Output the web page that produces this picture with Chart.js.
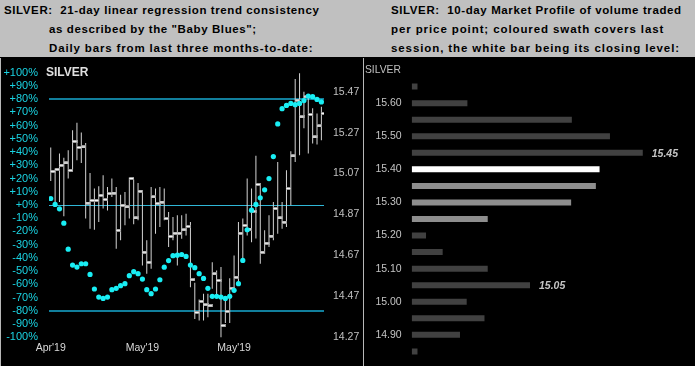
<!DOCTYPE html>
<html><head><meta charset="utf-8">
<script src="https://cdn.jsdelivr.net/npm/chart.js@4/dist/chart.umd.min.js"></script>
<style>
html,body{margin:0;padding:0;background:#000;width:695px;height:366px;overflow:hidden;font-family:"Liberation Sans",Arial,sans-serif;}
#title{position:absolute;left:0;top:0;width:695px;height:57px;background:#c0c0c0;}
.t{position:absolute;font-weight:bold;font-size:11.5px;letter-spacing:0.6px;color:#000;white-space:pre;line-height:14px;}
#cl{position:absolute;left:0;top:58px;}
#cr{position:absolute;left:362px;top:58px;}
#lb{position:absolute;left:0;top:58px;width:1px;height:308px;background:#b8b8b8;}
#rb{position:absolute;left:363px;top:58px;width:1px;height:308px;background:#b8b8b8;}
#sl{position:absolute;left:46px;top:65px;font-weight:bold;font-size:12px;color:#e0e0e0;line-height:14px;}
#sr{position:absolute;left:365px;top:64px;font-size:10.3px;color:#c0c0c0;line-height:12px;}
</style></head>
<body>
<div id="title">
<div class="t" style="left:4px;top:3px">SILVER:  21-day linear regression trend consistency</div>
<div class="t" style="left:49px;top:22px">as described by the "Baby Blues";</div>
<div class="t" style="left:49px;top:41px;letter-spacing:0.85px">Daily bars from last three months-to-date:</div>
<div class="t" style="left:391px;top:3px;letter-spacing:0.6px">SILVER:  10-day Market Profile of volume traded</div>
<div class="t" style="left:391px;top:22px;letter-spacing:0.9px">per price point; coloured swath covers last</div>
<div class="t" style="left:391px;top:41px;letter-spacing:0.9px">session, the white bar being its closing level:</div>
</div>
<canvas id="cl" width="361" height="308"></canvas>
<canvas id="cr" width="333" height="308"></canvas>
<div id="lb"></div><div id="rb"></div>
<div id="sl">SILVER</div>
<div id="sr">SILVER</div>
<script>
// ---------- Left panel data ----------
const highs = [15.198,15.095,15.168,15.147,15.184,15.282,15.318,15.271,15.219,15.073,
14.997,15.008,15.062,15.005,15.046,15.005,14.967,14.980,15.051,15.041,
15.024,14.988,14.744,15.005,14.997,15.005,14.997,14.882,14.858,14.866,
14.866,14.874,14.833,14.536,14.455,14.483,14.483,14.637,14.597,14.613,
14.466,14.559,14.670,14.833,14.850,15.046,14.997,15.157,15.013,14.793,
14.866,14.931,15.127,14.931,15.086,15.179,15.532,15.560,15.470,15.454,
15.389,15.364,15.396];
const lows = [15.034,14.915,14.931,14.861,15.046,15.090,15.135,15.122,14.850,14.801,
14.796,14.833,14.899,14.890,14.956,14.703,14.744,14.817,14.850,14.822,
14.842,14.621,14.580,14.605,14.776,14.809,14.842,14.711,14.744,14.621,
14.752,14.768,14.515,14.360,14.352,14.352,14.368,14.507,14.479,14.267,
14.340,14.340,14.507,14.539,14.646,14.768,14.735,14.753,14.629,14.678,
14.711,14.744,14.776,14.801,14.809,14.915,15.127,15.160,15.291,15.168,
15.217,15.212,15.233];
const closes = [15.081,15.091,15.111,15.122,15.086,15.228,15.198,15.200,14.926,14.939,
14.939,14.964,14.943,14.972,14.975,14.793,14.915,14.907,15.046,14.853,
14.984,14.686,14.637,14.956,14.923,14.931,14.850,14.763,14.779,14.779,
14.795,14.812,14.551,14.392,14.446,14.429,14.424,14.580,14.548,14.327,
14.397,14.510,14.564,14.779,14.817,14.799,14.886,15.017,14.686,14.730,
14.765,14.899,14.853,14.833,14.997,15.156,15.429,15.347,15.445,15.359,
15.249,15.303,15.364];
const babyBlues = [4.9,0.4,-2.9,-13.7,-33.4,-45.4,-46.9,-44.4,-44.4,-52.5,
-63.5,-69.6,-70.6,-69.6,-64,-63,-61,-59.5,-53.4,-50.4,
-51.9,-56,-64,-67,-63.5,-56.5,-47,-42,-38.3,-37.9,
-37.4,-38.9,-45.4,-47.4,-51.9,-55.5,-63,-69,-69,-69.6,
-70.6,-69,-64.5,-59.5,-41.9,-18.7,-3.9,0.4,5.4,11.5,
20,36.6,61.3,72.8,75.3,76.8,75.8,76.8,78.9,82.4,
81.9,79.8,77.9];
const xTickLabels = ["Apr'19","May'19","May'19"];
const xTickAt = [0,21,42];
const priceTicks = [14.27,14.47,14.67,14.87,15.07,15.27,15.47];
const bandLevels = [80,0,-80];

// ---------- Right panel data ----------
const mpLevels = ['15.65','15.60','15.55','15.50','15.45','15.40','15.35','15.30','15.25','15.20','15.15','15.10','15.05','15.00','14.95','14.90','14.85'];
const mpVolume = [2.5,24.1,69.3,85.8,100,81.3,79.7,69.0,32.9,6.2,13.4,32.9,51.2,23.8,31.5,20.9,2.5];
const swathLevels = ['15.40','15.35','15.30','15.25'];
const closeLevel = '15.40';
const peakLabels = ['15.45','15.05'];

Chart.defaults.font.family = "'Liberation Sans', Arial, sans-serif";
Chart.defaults.animation = false;

// close tick marker (drawn to the right of the bar)
const tickImg = document.createElement('canvas');
tickImg.width = 10; tickImg.height = 3;
const g = tickImg.getContext('2d');
g.fillStyle = '#9a9a9a'; g.fillRect(5,0,5,3);
g.fillStyle = '#ffffff'; g.fillRect(5,1,4,1);

const sessions = highs.map((_, i) => i);
const clear = 'rgba(0,0,0,0)';

new Chart(document.getElementById('cl'), {
  type: 'bar',
  data: {
    datasets: [
      { type:'scatter', data: sessions.map(i => ({x:i, y:babyBlues[i]})), yAxisID:'yPct', xAxisID:'x',
        pointRadius:2.6, pointBackgroundColor:'#19eef4', pointBorderWidth:0, order:0 },
      { type:'scatter', data: sessions.map(i => ({x:i, y:closes[i]})), yAxisID:'yPx', xAxisID:'x',
        pointStyle: tickImg, pointRadius:3, order:1 },
      { type:'bar', data: sessions.map(i => ({x:i, y:[lows[i], highs[i]]})), yAxisID:'yPx', xAxisID:'x',
        backgroundColor:'#d4d4d4', barThickness:1, inflateAmount:0, borderWidth:0, order:2 }
    ]
  },
  options: {
    responsive:false,
    layout:{ padding:{ top:14.7, left:0, right:0, bottom:0 } },
    plugins:{ legend:{display:false}, tooltip:{enabled:false} },
    scales: {
      x: { type:'linear', min:-0.4, max:62.6, position:'bottom', offset:false,
        grid:{display:false, drawTicks:false, offset:false}, border:{display:false},
        afterBuildTicks: a => { a.ticks = xTickAt.map(v => ({value:v})); },
        afterFit: a => { a.height = 28.7; },
        ticks:{ autoSkip:false, maxRotation:0, padding:5, color:'#d8d8d8', font:{size:10.5},
          callback: (v, i) => xTickLabels[i] } },
      yPct: { type:'linear', position:'left', min:-100, max:100,
        border:{display:false},
        afterFit: a => { a.width = 49; },
        grid:{ drawTicks:true, tickLength:11, tickColor:clear,
          color: c => c.tick && bandLevels.includes(c.tick.value) ? (c.tick.value === 0 ? '#2fb6d6' : '#117f9c') : clear,
          lineWidth: c => c.tick && c.tick.value !== 0 && bandLevels.includes(c.tick.value) ? 2 : 1 },
        ticks:{ stepSize:10, autoSkip:false, padding:0, color:'#1ad3e2', font:{size:11},
          callback: v => (v >= 0 ? '+' : '') + v + '%' } },
      yPx: { type:'linear', position:'right', min:14.27, max:15.563,
        border:{display:false}, grid:{display:false, drawTicks:true, tickLength:9},
        afterFit: a => { a.width = 37; },
        afterBuildTicks: a => { a.ticks = priceTicks.map(v => ({value:v})); },
        ticks:{ autoSkip:false, padding:0, color:'#c0c0c0', font:{size:10.5}, callback: v => v.toFixed(2) } }
    }
  }
});

// right panel
const mpColors = mpLevels.map(l => l === closeLevel ? '#ffffff' : (swathLevels.includes(l) ? '#8e8e8e' : '#414141'));
const peakLabelPlugin = {
  id:'peakLabels',
  afterDatasetsDraw(chart) {
    const ctx = chart.ctx, meta = chart.getDatasetMeta(0);
    ctx.save();
    ctx.font = "italic bold 10.5px 'Liberation Sans', Arial, sans-serif";
    ctx.fillStyle = '#c4c4c4';
    ctx.textBaseline = 'middle';
    peakLabels.forEach(l => {
      const el = meta.data[mpLevels.indexOf(l)];
      ctx.fillText(l, el.x + 9, el.y + 1);
    });
    ctx.restore();
  }
};
new Chart(document.getElementById('cr'), {
  type:'bar',
  data:{ labels: mpLevels, datasets:[{ data: mpVolume, backgroundColor: mpColors, borderWidth:0, inflateAmount:0, barThickness:6 }] },
  options:{
    indexAxis:'y', responsive:false,
    layout:{ padding:{ top:20.3, bottom:4.3, left:0, right:0 } },
    plugins:{ legend:{display:false}, tooltip:{enabled:false} },
    scales:{
      x:{ display:false, min:0, max:122.6 },
      y:{ grid:{display:false, drawTicks:true, tickLength:10}, border:{display:false},
        afterFit: a => { a.width = 49.7; },
        ticks:{ autoSkip:false, padding:0, color:'#c4c4c4', font:{size:10.5},
          callback: (v, i) => (Math.round(parseFloat(mpLevels[i]) * 100) % 10 === 0) ? mpLevels[i] : null } }
    }
  },
  plugins:[peakLabelPlugin]
});
</script>
</body></html>
